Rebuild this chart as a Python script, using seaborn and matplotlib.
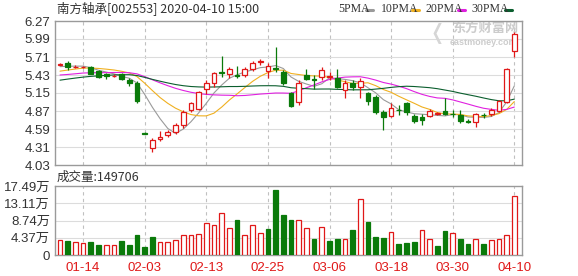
import numpy as np
import pandas as pd
import matplotlib
matplotlib.use("Agg")
import matplotlib.pyplot as plt
from matplotlib.lines import Line2D
import seaborn as sns

# ---------------- data ----------------
dates = ["01-09", "01-10", "01-13", "01-14", "01-15", "01-16", "01-17", "01-20", "01-21", "01-22",
         "01-23", "02-03", "02-04", "02-05", "02-06", "02-07", "02-10", "02-11", "02-12", "02-13",
         "02-14", "02-17", "02-18", "02-19", "02-20", "02-21", "02-24", "02-25", "02-26", "02-27",
         "02-28", "03-02", "03-03", "03-04", "03-05", "03-06", "03-09", "03-10", "03-11", "03-12",
         "03-13", "03-16", "03-17", "03-18", "03-19", "03-20", "03-23", "03-24", "03-25", "03-26",
         "03-27", "03-30", "03-31", "04-01", "04-02", "04-03", "04-07", "04-08", "04-09", "04-10"]

open_ = [5.59, 5.62, 5.55, 5.55, 5.56, 5.49, 5.45, 5.41, 5.44, 5.35,
         5.30, 4.53, 4.30, 4.43, 4.50, 4.54, 4.66, 4.89, 4.90, 5.21,
         5.30, 5.475, 5.44, 5.43, 5.43, 5.52, 5.63, 5.49, 5.535, 5.47,
         5.145, 5.005, 5.43, 5.36, 5.40, 5.40, 5.39, 5.20, 5.30, 5.25,
         5.145, 5.09, 4.86, 4.80, 4.89, 4.99, 4.80, 4.78, 4.80, 4.83,
         4.875, 4.826, 4.81, 4.714, 4.694, 4.81, 4.818, 4.87, 5.005, 5.80]
high = [5.62, 5.65, 5.58, 5.57, 5.575, 5.51, 5.46, 5.44, 5.456, 5.38,
        5.33, 4.55, 4.455, 4.56, 4.575, 4.68, 4.89, 5.015, 5.18, 5.35,
        5.48, 5.73, 5.56, 5.57, 5.56, 5.65, 5.68, 5.61, 5.87, 5.51,
        5.17, 5.35, 5.53, 5.43, 5.56, 5.48, 5.53, 5.35, 5.35, 5.38,
        5.17, 5.12, 4.89, 4.99, 4.96, 5.015, 4.82, 4.82, 4.90, 4.86,
        5.07, 4.886, 4.886, 4.745, 4.834, 4.844, 4.922, 5.04, 5.544, 6.10]
low = [5.58, 5.51, 5.54, 5.54, 5.44, 5.39, 5.36, 5.40, 5.35, 5.26,
       5.00, 4.51, 4.23, 4.40, 4.46, 4.52, 4.60, 4.86, 4.89, 5.13,
       5.25, 5.40, 5.38, 5.38, 5.40, 5.49, 5.59, 5.38, 5.48, 5.275,
       4.94, 4.97, 5.35, 5.22, 5.35, 5.35, 5.23, 5.07, 5.20, 5.08,
       4.97, 4.82, 4.575, 4.77, 4.81, 4.81, 4.68, 4.65, 4.77, 4.81,
       4.81, 4.782, 4.69, 4.678, 4.626, 4.766, 4.797, 4.85, 4.99, 5.715]
close = [5.60, 5.55, 5.56, 5.56, 5.45, 5.40, 5.41, 5.42, 5.36, 5.31,
         5.03, 4.52, 4.42, 4.47, 4.55, 4.65, 4.85, 4.99, 5.16, 5.30,
         5.456, 5.465, 5.52, 5.42, 5.53, 5.61, 5.64, 5.575, 5.53, 5.30,
         4.95, 5.30, 5.37, 5.35, 5.50, 5.41, 5.25, 5.30, 5.25, 5.33,
         5.03, 4.85, 4.77, 4.92, 4.88, 4.86, 4.71, 4.73, 4.875, 4.835,
         4.818, 4.82, 4.714, 4.694, 4.818, 4.808, 4.886, 5.02, 5.52, 6.07]

# closes before the window (estimated so the moving averages start where the picture shows)
history_close = [5.05, 5.08, 5.12, 5.10, 5.15, 5.20, 5.22, 5.25, 5.30, 5.42,
                 5.38, 5.35, 5.33, 5.36, 5.38, 5.40, 5.37, 5.35, 5.39, 5.39,
                 5.38, 5.40, 5.42, 5.44, 5.46, 5.52, 5.55, 5.56, 5.57]

# volume in 万 (10k lots)
volume = [3.92, 3.58, 3.33, 3.08, 3.33, 2.58, 2.50, 2.50, 3.58, 2.58,
          5.08, 2.08, 4.58, 3.33, 3.33, 3.83, 5.00, 5.00, 5.25, 8.08,
          7.50, 10.58, 6.83, 8.91, 5.00, 7.50, 5.58, 6.58, 16.41, 10.16,
          8.91, 8.91, 6.83, 4.17, 7.08, 3.67, 4.17, 4.17, 6.41, 14.24,
          8.33, 4.58, 4.33, 5.83, 2.83, 3.08, 3.33, 6.25, 4.08, 2.33,
          6.08, 5.50, 4.17, 2.83, 4.08, 2.83, 3.83, 4.08, 5.00, 14.97]
# 1 = up day (red hollow), 0 = down day (green filled)
volume_up = [1, 0, 1, 1, 0, 0, 1, 1, 0, 0,
             0, 0, 0, 1, 1, 1, 1, 1, 1, 1,
             1, 1, 1, 0, 1, 1, 1, 0, 0, 0,
             0, 1, 1, 0, 1, 0, 0, 1, 0, 1,
             0, 0, 0, 1, 0, 0, 0, 1, 1, 0,
             0, 1, 0, 0, 1, 0, 1, 1, 1, 1]

price_ticks = [6.27, 5.99, 5.71, 5.43, 5.15, 4.87, 4.59, 4.31, 4.03]
volume_ticks = [17.49, 13.11, 8.74, 4.37, 0]
volume_tick_labels = ["17.49万", "13.11万", "8.74万", "4.37万", "0"]
ma_windows = [5, 10, 20, 30]
ma_names = ["5PMA", "10PMA", "20PMA", "30PMA"]
title_text = "南方轴承[002553] 2020-04-10 15:00"
volume_title = "成交量:149706"

# ---------------- style ----------------
sns.set_style("white")
plt.rcParams["font.family"] = ["Liberation Sans", "Noto Sans CJK SC", "DejaVu Sans"]

RED = "#e01818"
GREEN = "#0a7a0a"
MA_COLORS = ["#9a9a9a", "#f0b020", "#e020e0", "#0b5e2e"]
SPINE = "#9a9a9a"
HGRID = "#dcdcdc"
VGRID = "#c0c0c0"
TXT = "#333333"

W, H = 578, 276
fig = plt.figure(figsize=(W / 100, H / 100), dpi=100)
fig.patch.set_facecolor("white")

def px_axes(left, top, right, bottom):
    return fig.add_axes([left / W, 1 - bottom / H, (right - left) / W, (bottom - top) / H])

ax = px_axes(55, 21, 522, 165)
axv = px_axes(55, 186, 522, 255)

n = len(close)
idx = np.arange(n)
o = np.array(open_); c = np.array(close); hi = np.array(high); lo = np.array(low)
up = c >= o

# moving averages
full = pd.Series(history_close + close)
ma_df = pd.DataFrame({"i": idx})
for w, name in zip(ma_windows, ma_names):
    ma_df[name] = full.rolling(w).mean().to_numpy()[-n:]

label_idx = list(range(3, n, 8))

for a in (ax, axv):
    a.set_xlim(-0.65, 60.0)
    for s in a.spines.values():
        s.set_color(SPINE)
        s.set_linewidth(1.0)
    for li in label_idx:
        a.axvline(li, color=VGRID, lw=0.8, ls=(0, (3, 3)), zorder=0)
    a.tick_params(axis="both", length=0, colors=TXT, labelsize=9.5)

# price panel
ax.set_ylim(4.03, 6.27)
ax.set_yticks(price_ticks)
ax.set_yticklabels([f"{t:.2f}" for t in price_ticks])
for t in price_ticks[1:-1]:
    ax.axhline(t, color=HGRID, lw=0.8, zorder=0)
ax.set_xticks([])

# watermark (clipped by the plot frame)
ax.text(452 / W, 1 - 28 / H, "东方财富网", transform=fig.transFigure, fontsize=9.5,
        color="#cccccc", va="center", ha="left", weight="bold",
        family=["Noto Sans CJK SC"], zorder=1, clip_on=True)
ax.text(450 / W, 1 - 42.5 / H, "eastmoney.com", transform=fig.transFigure, fontsize=6.5,
        color="#cccccc", va="center", ha="left", weight="bold", zorder=1, clip_on=True)
ax.text(437 / W, 1 - 34 / H, "❬", transform=fig.transFigure, fontsize=15,
        color="#d6d6d6", va="center", ha="center", weight="bold", zorder=1,
        family=["DejaVu Sans"])

for name, col in zip(ma_names, MA_COLORS):
    sns.lineplot(data=ma_df, x="i", y=name, ax=ax, color=col, lw=0.8, zorder=2)
ax.set_xlabel(""); ax.set_ylabel("")

ax.vlines(idx[up], lo[up], hi[up], color=RED, lw=0.9, zorder=3)
ax.vlines(idx[~up], lo[~up], hi[~up], color=GREEN, lw=0.9, zorder=3)
body_h = np.maximum(np.abs(c - o), 0.004)
body_b = np.minimum(o, c)
ax.bar(idx[up], body_h[up], bottom=body_b[up], width=0.62, facecolor="white",
       edgecolor=RED, linewidth=0.9, zorder=4)
ax.bar(idx[~up], body_h[~up], bottom=body_b[~up], width=0.62, facecolor=GREEN,
       edgecolor=GREEN, linewidth=0.9, zorder=4)

# volume panel
vu = np.array(volume_up, dtype=bool)
vol = np.array(volume)
axv.set_ylim(0, 17.49)
axv.set_yticks(volume_ticks)
axv.set_yticklabels(volume_tick_labels)
for t in volume_ticks[1:-1]:
    axv.axhline(t, color=HGRID, lw=0.8, zorder=0)
axv.bar(idx[vu], vol[vu], width=0.6, facecolor="white", edgecolor=RED, linewidth=0.9, zorder=3)
axv.bar(idx[~vu], vol[~vu], width=0.6, facecolor=GREEN, edgecolor=GREEN, linewidth=0.9, zorder=3)
axv.set_xticks(label_idx)
axv.set_xticklabels([dates[i] for i in label_idx], color=RED)
axv.tick_params(axis="x", pad=5)

# texts
fig.text(57 / W, 1 - 8.5 / H, title_text, fontsize=9, color=TXT, va="center", ha="left",
         family=["Noto Sans CJK SC", "DejaVu Sans"])
fig.text(57 / W, 1 - 177 / H, volume_title, fontsize=9, color=TXT, va="center", ha="left",
         family=["Noto Sans CJK SC", "DejaVu Sans"])

leg_x = [338, 381, 425, 471]
for xx, name in zip(leg_x, ma_names):
    fig.text(xx / W, 1 - 9 / H, name, fontsize=8.5, color=TXT, va="center", ha="left",
             family=["Liberation Serif"])
leg_dash = [(366, 373), (412, 419), (458, 465), (505, 512)]
for (x0, x1), col in zip(leg_dash, MA_COLORS):
    fig.add_artist(Line2D([x0 / W, x1 / W], [1 - 9.5 / H, 1 - 9.5 / H], color=col, lw=2.2,
                          transform=fig.transFigure))

fig.savefig("out.png", dpi=100, facecolor="white")
